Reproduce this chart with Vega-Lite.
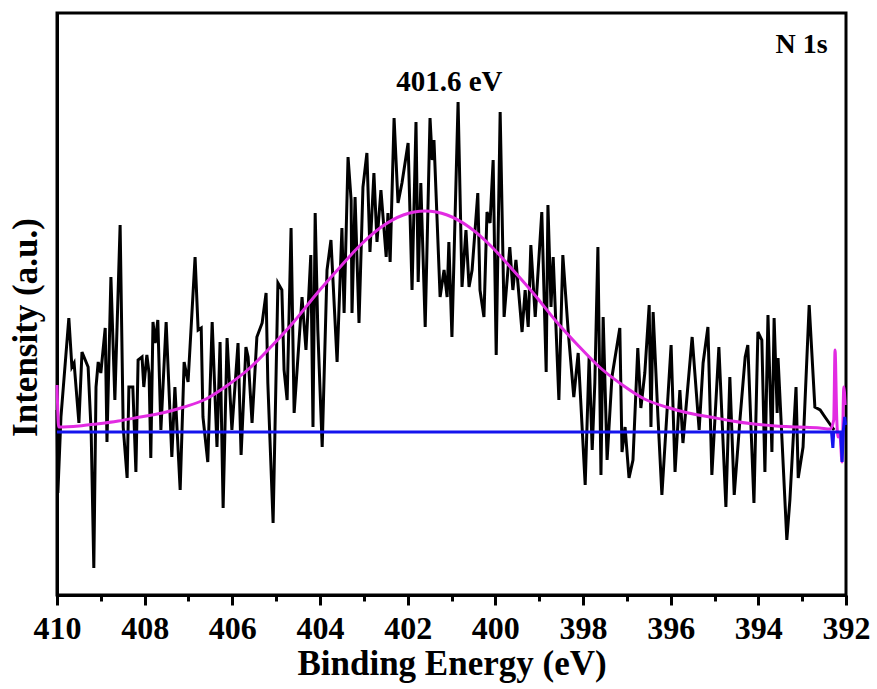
{
  "$schema": "https://vega.github.io/schema/vega-lite/v6.json",
  "autosize": "none",
  "width": 789,
  "height": 582,
  "padding": {"left": 57, "top": 13, "right": 31, "bottom": 94},
  "background": "white",
  "datasets": {
    "raw": [
      {"e":410.00,"i":185},{"e":409.98,"i":102},{"e":409.91,"i":178},{"e":409.73,"i":277},{"e":409.66,"i":228},{"e":409.61,"i":232},{"e":409.50,"i":172},{"e":409.43,"i":243},{"e":409.29,"i":228},{"e":409.22,"i":162},{"e":409.16,"i":27},{"e":409.11,"i":208},{"e":409.06,"i":233},{"e":409.00,"i":222},{"e":408.90,"i":267},{"e":408.86,"i":153},{"e":408.77,"i":318},{"e":408.68,"i":195},{"e":408.56,"i":370},{"e":408.49,"i":168},{"e":408.40,"i":117},{"e":408.36,"i":208},{"e":408.27,"i":208},{"e":408.20,"i":123},{"e":408.15,"i":235},{"e":408.06,"i":238},{"e":408.02,"i":208},{"e":407.95,"i":240},{"e":407.90,"i":222},{"e":407.86,"i":137},{"e":407.81,"i":273},{"e":407.76,"i":252},{"e":407.70,"i":275},{"e":407.63,"i":165},{"e":407.51,"i":273},{"e":407.38,"i":138},{"e":407.31,"i":208},{"e":407.19,"i":105},{"e":407.10,"i":233},{"e":407.01,"i":213},{"e":406.85,"i":338},{"e":406.78,"i":265},{"e":406.71,"i":267},{"e":406.67,"i":178},{"e":406.56,"i":133},{"e":406.46,"i":273},{"e":406.35,"i":148},{"e":406.28,"i":253},{"e":406.21,"i":87},{"e":406.12,"i":257},{"e":406.01,"i":165},{"e":405.87,"i":252},{"e":405.80,"i":140},{"e":405.69,"i":248},{"e":405.64,"i":238},{"e":405.55,"i":172},{"e":405.44,"i":258},{"e":405.32,"i":272},{"e":405.23,"i":302},{"e":405.19,"i":212},{"e":405.07,"i":72},{"e":404.96,"i":312},{"e":404.87,"i":305},{"e":404.82,"i":225},{"e":404.75,"i":195},{"e":404.66,"i":367},{"e":404.59,"i":182},{"e":404.41,"i":298},{"e":404.32,"i":245},{"e":404.21,"i":340},{"e":404.16,"i":168},{"e":404.11,"i":382},{"e":404.05,"i":265},{"e":403.95,"i":148},{"e":403.84,"i":325},{"e":403.75,"i":355},{"e":403.61,"i":233},{"e":403.50,"i":367},{"e":403.45,"i":282},{"e":403.36,"i":438},{"e":403.29,"i":395},{"e":403.27,"i":282},{"e":403.20,"i":398},{"e":403.11,"i":272},{"e":403.02,"i":408},{"e":402.93,"i":442},{"e":402.86,"i":343},{"e":402.77,"i":422},{"e":402.70,"i":353},{"e":402.61,"i":405},{"e":402.49,"i":338},{"e":402.45,"i":382},{"e":402.40,"i":333},{"e":402.31,"i":477},{"e":402.22,"i":392},{"e":402.13,"i":412},{"e":401.99,"i":452},{"e":401.90,"i":305},{"e":401.81,"i":473},{"e":401.76,"i":313},{"e":401.70,"i":412},{"e":401.60,"i":268},{"e":401.49,"i":477},{"e":401.44,"i":435},{"e":401.40,"i":455},{"e":401.26,"i":298},{"e":401.17,"i":325},{"e":401.10,"i":298},{"e":401.06,"i":353},{"e":400.99,"i":258},{"e":400.85,"i":493},{"e":400.76,"i":308},{"e":400.67,"i":365},{"e":400.60,"i":308},{"e":400.53,"i":325},{"e":400.40,"i":402},{"e":400.35,"i":305},{"e":400.26,"i":278},{"e":400.19,"i":383},{"e":400.12,"i":372},{"e":400.05,"i":435},{"e":399.98,"i":240},{"e":399.89,"i":483},{"e":399.80,"i":278},{"e":399.67,"i":348},{"e":399.60,"i":305},{"e":399.53,"i":335},{"e":399.39,"i":263},{"e":399.32,"i":305},{"e":399.25,"i":268},{"e":399.19,"i":350},{"e":399.09,"i":278},{"e":398.94,"i":383},{"e":398.84,"i":223},{"e":398.80,"i":390},{"e":398.73,"i":288},{"e":398.68,"i":338},{"e":398.55,"i":195},{"e":398.46,"i":340},{"e":398.34,"i":265},{"e":398.21,"i":198},{"e":398.11,"i":242},{"e":397.95,"i":110},{"e":397.86,"i":238},{"e":397.79,"i":145},{"e":397.73,"i":212},{"e":397.66,"i":348},{"e":397.59,"i":120},{"e":397.54,"i":278},{"e":397.45,"i":135},{"e":397.34,"i":218},{"e":397.16,"i":267},{"e":397.11,"i":143},{"e":397.04,"i":168},{"e":396.95,"i":117},{"e":396.86,"i":135},{"e":396.75,"i":247},{"e":396.68,"i":187},{"e":396.59,"i":222},{"e":396.49,"i":290},{"e":396.45,"i":168},{"e":396.40,"i":283},{"e":396.29,"i":178},{"e":396.20,"i":100},{"e":395.99,"i":250},{"e":395.90,"i":123},{"e":395.79,"i":205},{"e":395.72,"i":152},{"e":395.51,"i":258},{"e":395.35,"i":165},{"e":395.26,"i":232},{"e":395.15,"i":268},{"e":395.06,"i":120},{"e":394.90,"i":248},{"e":394.74,"i":88},{"e":394.65,"i":218},{"e":394.55,"i":100},{"e":394.42,"i":175},{"e":394.30,"i":238},{"e":394.24,"i":250},{"e":394.10,"i":92},{"e":394.01,"i":263},{"e":393.92,"i":255},{"e":393.85,"i":123},{"e":393.78,"i":280},{"e":393.69,"i":143},{"e":393.64,"i":277},{"e":393.57,"i":182},{"e":393.55,"i":237},{"e":393.35,"i":55},{"e":393.28,"i":95},{"e":393.14,"i":208},{"e":393.09,"i":117},{"e":392.98,"i":148},{"e":392.84,"i":290},{"e":392.71,"i":188},{"e":392.59,"i":185},{"e":392.48,"i":178},{"e":392.32,"i":168},{"e":392.27,"i":165}
    ],
    "fit": [
      {"e":410.00,"i":210},{"e":409.96,"i":168},{"e":409.5,"i":169},{"e":409.1,"i":171},{"e":408.6,"i":174},{"e":408.1,"i":178},{"e":407.6,"i":182},{"e":407.1,"i":188},{"e":406.6,"i":196},{"e":406.1,"i":210},{"e":405.6,"i":227},{"e":405.1,"i":249},{"e":404.6,"i":273},{"e":404.1,"i":300},{"e":403.6,"i":325},{"e":403.1,"i":349},{"e":402.6,"i":368},{"e":402.1,"i":380},{"e":401.6,"i":384},{"e":401.1,"i":380},{"e":400.6,"i":368},{"e":400.1,"i":349},{"e":399.6,"i":325},{"e":399.1,"i":300},{"e":398.6,"i":273},{"e":398.1,"i":249},{"e":397.6,"i":227},{"e":397.1,"i":210},{"e":396.6,"i":196},{"e":396.1,"i":188},{"e":395.6,"i":182},{"e":395.1,"i":178},{"e":394.6,"i":174},{"e":394.1,"i":171},{"e":393.6,"i":169},{"e":393.1,"i":168},{"e":392.6,"i":167},{"e":392.36,"i":166},{"e":392.28,"i":175},{"e":392.25,"i":245},{"e":392.21,"i":175},{"e":392.18,"i":158},{"e":392.14,"i":160},{"e":392.09,"i":133},{"e":392.05,"i":208},{"e":392.02,"i":190}
    ],
    "base": [
      {"e":410.00,"i":163},{"e":392.33,"i":163},{"e":392.30,"i":147},{"e":392.28,"i":163},{"e":392.12,"i":163},{"e":392.09,"i":133},{"e":392.06,"i":165},{"e":392.03,"i":178},{"e":392.01,"i":170}
    ],
    "notes": [
      {"e":401.05,"i":513,"t":"401.6 eV"}
    ],
    "tag": [
      {"e":392.42,"i":550,"t":"N 1s"}
    ]
  },
  "encoding": {
    "x": {
      "field": "e", "type": "quantitative",
      "scale": {"domain": [392, 410], "reverse": true, "nice": false, "zero": false},
      "axis": {
        "title": "Binding Energy (eV)",
        "values": [392,393,394,395,396,397,398,399,400,401,402,403,404,405,406,407,408,409,410],
        "labelExpr": "datum.value % 2 === 0 ? datum.label : ''",
        "tickSize": {"condition": {"test": "datum.value % 2 === 0", "value": 10}, "value": 6},
        "labelPadding": 8,
        "labelFontSize": 32,
        "titleFontSize": 35,
        "titlePadding": 2,
        "labelFlush": false,
        "labelOverlap": false
      }
    },
    "y": {
      "field": "i", "type": "quantitative",
      "scale": {"domain": [0, 582], "nice": false, "zero": false},
      "axis": {
        "title": "Intensity (a.u.)",
        "labels": false,
        "ticks": false,
        "titleFontSize": 35,
        "titlePadding": 14,
        "titleY": 314
      }
    }
  },
  "layer": [
    {"data": {"name": "raw"}, "mark": {"type": "line", "color": "black", "strokeWidth": 3, "strokeJoin": "miter"}},
    {"data": {"name": "fit"}, "mark": {"type": "line", "color": "#E22BE2", "strokeWidth": 3, "interpolate": "monotone"}},
    {"data": {"name": "base"}, "mark": {"type": "line", "color": "#1414EE", "strokeWidth": 3}},
    {"data": {"name": "notes"}, "mark": {"type": "text", "font": "Liberation Serif", "fontWeight": "bold", "fontSize": 29, "align": "center", "baseline": "middle", "color": "black"}, "encoding": {"text": {"field": "t"}}},
    {"data": {"name": "tag"}, "mark": {"type": "text", "font": "Liberation Serif", "fontWeight": "bold", "fontSize": 28, "align": "right", "baseline": "middle", "color": "black"}, "encoding": {"text": {"field": "t"}}}
  ],
  "config": {
    "view": {"stroke": "black", "strokeWidth": 3},
    "axis": {
      "grid": false,
      "domainColor": "black",
      "domainWidth": 3,
      "tickColor": "black",
      "tickWidth": 3,
      "labelColor": "black",
      "titleColor": "black",
      "labelFont": "Liberation Serif",
      "titleFont": "Liberation Serif",
      "labelFontWeight": "bold",
      "titleFontWeight": "bold"
    }
  }
}
